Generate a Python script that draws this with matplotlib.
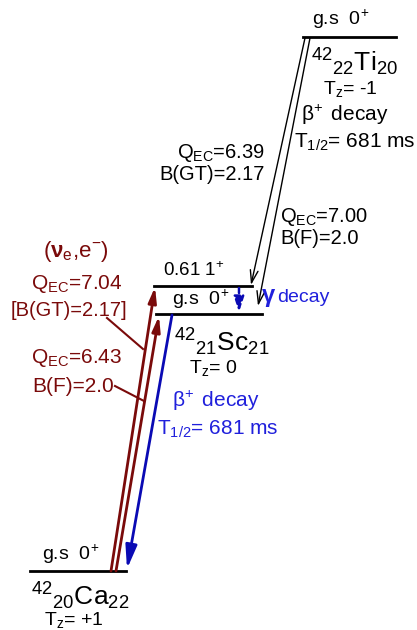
import matplotlib
matplotlib.use('Agg')
import matplotlib.pyplot as plt

plt.rcParams['font.family'] = ['Liberation Sans', 'DejaVu Sans']
plt.rcParams['mathtext.fontset'] = 'custom'
plt.rcParams['mathtext.rm'] = 'Liberation Sans'
plt.rcParams['mathtext.it'] = 'Liberation Sans'
plt.rcParams['mathtext.bf'] = 'Liberation Sans:bold'

# level schemes of the A=42 triplet
nuclei = ['$^{42}{}_{22}$Ti$_{20}$', '$^{42}{}_{21}$Sc$_{21}$', '$^{42}{}_{20}$Ca$_{22}$']
tz_labels = ['T$_z$= -1', 'T$_z$= 0', 'T$_z$= +1']
level_labels = ['g.s  0$^{\\!+}$', '0.61 1$^{\\!+}$', 'g.s  0$^{\\!+}$', 'g.s  0$^{\\!+}$']
beta_decay = 'β$^{\\!+}$ decay'
half_life = 'T$_{1/2}$= 681 ms'

ti_qec = ['Q$_{EC}$=6.39\nB(GT)=2.17', 'Q$_{EC}$=7.00\nB(F)=2.0']
ca_qec = ['Q$_{EC}$=7.04', '[B(GT)=2.17]', 'Q$_{EC}$=6.43', 'B(F)=2.0']
ca_probe = '($\\mathbf{\\nu}_e$,e$^{-}$)'

red = '#7a0a0a'
blue = '#0a0ab4'
blue_txt = '#2020dc'

fig = plt.figure(figsize=(4.17, 6.30), dpi=100)
ax = fig.add_axes([0, 0, 1, 1])
ax.set_xlim(0, 417)
ax.set_ylim(630, 0)
ax.axis('off')

# levels
ax.plot([303, 396], [37, 37], 'k', lw=2)
ax.plot([154, 252], [286, 286], 'k', lw=2)
ax.plot([156, 262], [314, 314], 'k', lw=2)
ax.plot([30, 126], [571, 571], 'k', lw=2)

def arrow(x0, y0, x1, y1, color, lw, style, ls='-'):
    ax.annotate('', xy=(x1, y1), xytext=(x0, y0),
                arrowprops=dict(arrowstyle=style, color=color, lw=lw, ls=ls,
                                shrinkA=0, shrinkB=0, mutation_scale=20))

# Ti beta+ decay
arrow(305, 38, 251, 285, 'k', 1.0, '->,head_width=0.14,head_length=0.45')
arrow(310, 38, 258, 306, 'k', 1.0, '->,head_width=0.14,head_length=0.45')
# charge exchange on Ca
arrow(111, 571, 155, 287, red, 2.0, '-|>,head_width=0.12,head_length=0.45')
arrow(116, 571, 159, 316, red, 2.0, '-|>,head_width=0.12,head_length=0.45')
# Sc beta+ decay
arrow(172, 315, 127, 569, blue, 2.0, '-|>,head_width=0.17,head_length=0.7')
# gamma
arrow(239, 288, 239, 312, blue, 1.8, '-|>,head_width=0.15,head_length=0.45', ls=(0, (2, 1.5)))

# Ti labels
ax.text(341, 19, level_labels[0], ha='center', va='center', fontsize=14)
ax.text(355, 62, nuclei[0], ha='center', va='center', fontsize=19)
ax.text(350, 89, tz_labels[0], ha='center', va='center', fontsize=14)
ax.text(345, 115, beta_decay, ha='center', va='center', fontsize=15)
ax.text(355, 142, half_life, ha='center', va='center', fontsize=15)
ax.text(265, 163, ti_qec[0], ha='right', va='center', fontsize=14.5, linespacing=1.0)
ax.text(280, 227, ti_qec[1], ha='left', va='center', fontsize=14.5, linespacing=1.0)

# Sc labels
ax.text(194, 271, level_labels[1], ha='center', va='center', fontsize=13.5)
ax.text(201, 299, level_labels[2], ha='center', va='center', fontsize=14)
ax.text(261, 298, '$\\mathbf{\\gamma}$', ha='left', va='center', fontsize=17, color=blue_txt)
ax.text(277, 298, 'decay', ha='left', va='center', fontsize=14, color=blue_txt)
ax.text(222, 342, nuclei[1], ha='center', va='center', fontsize=19)
ax.text(213, 368, tz_labels[1], ha='center', va='center', fontsize=14)
ax.text(216, 401, beta_decay, ha='center', va='center', fontsize=15, color=blue_txt)
ax.text(218, 429, half_life, ha='center', va='center', fontsize=15, color=blue_txt)

# Ca labels
ax.text(71, 554, level_labels[3], ha='center', va='center', fontsize=14)
ax.text(80, 596, nuclei[2], ha='center', va='center', fontsize=19)
ax.text(74, 620, tz_labels[2], ha='center', va='center', fontsize=14)

ax.text(76, 251, ca_probe, ha='center', va='center', fontsize=16, color=red)
ax.text(77, 284, ca_qec[0], ha='center', va='center', fontsize=15, color=red)
ax.text(69, 310, ca_qec[1], ha='center', va='center', fontsize=14.5, color=red)
ax.text(77, 358, ca_qec[2], ha='center', va='center', fontsize=15, color=red)
ax.text(73, 386, ca_qec[3], ha='center', va='center', fontsize=15, color=red)
ax.plot([107, 143], [318, 349], color=red, lw=1.5)
ax.plot([115, 144], [386, 401], color=red, lw=1.5)

fig.savefig('out.png', dpi=100)
